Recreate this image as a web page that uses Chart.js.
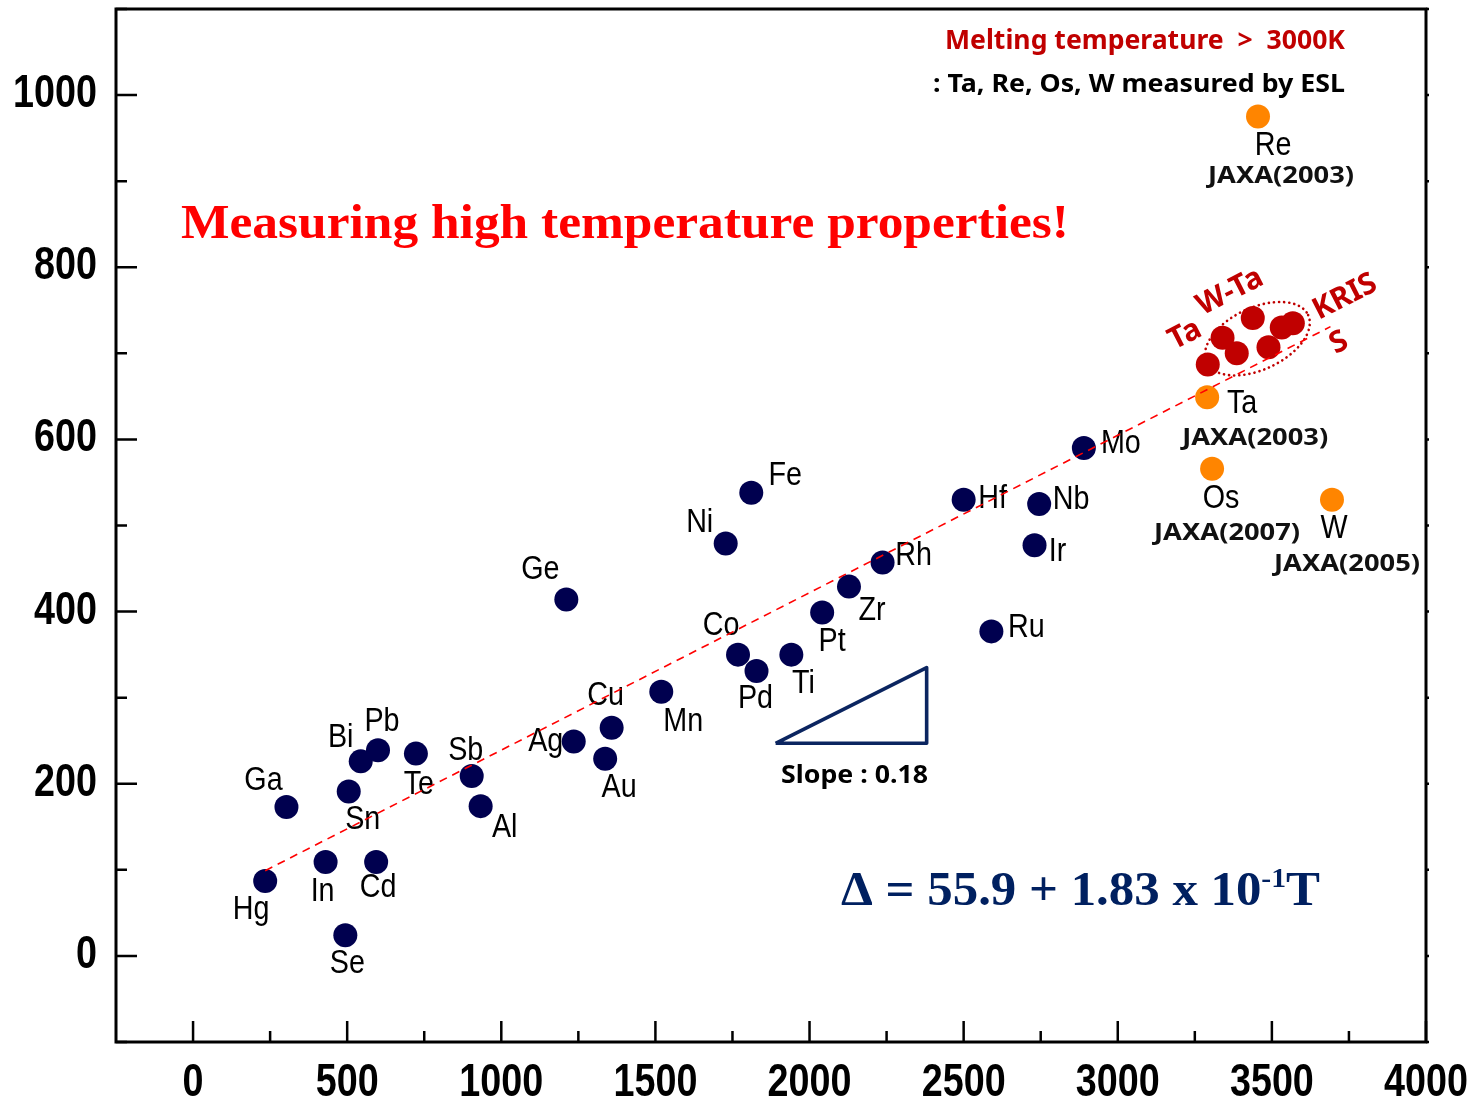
<!DOCTYPE html>
<html><head><meta charset="utf-8">
<script src="https://cdn.jsdelivr.net/npm/chart.js@4.4.1/dist/chart.umd.min.js"></script>
<style>html,body{margin:0;padding:0;background:#fff;}canvas{display:block;}</style>
</head><body>
<canvas id="c" width="1478" height="1100"></canvas>
<script>
// ---------- data ----------
const elementNames = ['Hg','Ga','In','Se','Sn','Bi','Cd','Pb','Te','Sb','Al','Ge','Ag','Au','Cu','Mn','Ni','Co','Fe','Pd','Ti','Pt','Zr','Rh','Hf','Ru','Ir','Nb','Mo'];
const elementT     = [234, 303, 430, 494, 505, 544, 594, 600, 723, 904, 933, 1211, 1235, 1337, 1358, 1519, 1728, 1768, 1811, 1828, 1941, 2041, 2128, 2237, 2500, 2590, 2730, 2745, 2890];
const elementDelta = [87, 173, 109, 24, 191, 226, 109, 239, 235, 209, 174, 414, 249, 229, 265, 307, 479, 350, 538, 331, 350, 399, 429, 457, 530, 377, 477, 525, 590];

const jaxaNames  = ['Ta','Os','Re','W'];
const jaxaSource = ['JAXA(2003)','JAXA(2007)','JAXA(2003)','JAXA(2005)'];
const jaxaT      = [3290, 3306, 3455, 3695];
const jaxaDelta  = [649, 566, 975, 530];

const krissT     = [3292, 3340, 3386, 3438, 3489, 3532, 3568];
const krissDelta = [687, 718, 700, 741, 707, 730, 735];

const fitT     = [234, 3690];
const fitDelta = [99, 731];

const slopeT     = [1890, 2380, 2380, 1890];
const slopeDelta = [247, 247, 335, 247];

const ellipseT = 3453, ellipseDelta = 717;

const xTicks = [0, 500, 1000, 1500, 2000, 2500, 3000, 3500, 4000];
const xMinorTicks = [250, 750, 1250, 1750, 2250, 2750, 3250, 3750];
const yTicks = [0, 200, 400, 600, 800, 1000];
const yMinorTicks = [-100, 100, 300, 500, 700, 900, 1100];

// ---------- label placement (pixel offsets from the point) ----------
const elementLabelOffsets = {
  Hg:[-14,29], Ga:[-23,-26], In:[-3,30], Se:[2,29], Sn:[14,28], Bi:[-20,-23], Cd:[2,26], Pb:[4,-28],
  Te:[3,31], Sb:[-6,-25], Al:[24,22], Ge:[-26,-30], Ag:[-28,0], Au:[14,29], Cu:[-6,-32], Mn:[22,30],
  Ni:[-26,-21], Co:[-17,-29], Fe:[34,-17], Pd:[-1,28], Ti:[12,29], Pt:[10,29], Zr:[23,24], Rh:[31,-7],
  Hf:[29,-1], Ru:[35,-3], Ir:[23,7], Nb:[32,-4], Mo:[37,-4]
};
const jaxaNameOffsets = [[35,7],[9,30],[15,29],[2,29]];
const jaxaSourceOffsets = [[48,41],[15,64],[23,60],[15,64]];

const pts = (xs, ys) => xs.map((x, i) => ({x, y: ys[i]}));

const SANS = "'Liberation Sans', Arial, sans-serif";
const KR = "'Noto Sans', 'Open Sans', sans-serif";
const SERIF = "'Liberation Serif', 'DejaVu Serif', serif";

function fitText(ctx, text, x, y, targetW, align) {
  const w = ctx.measureText(text).width;
  const sx = targetW ? targetW / w : 1;
  ctx.save();
  ctx.translate(x, y);
  ctx.scale(sx, 1);
  ctx.textAlign = align || 'left';
  ctx.fillText(text, 0, 0);
  ctx.restore();
}
function squeezeText(ctx, text, x, y, sx, align) {
  ctx.save();
  ctx.translate(x, y);
  ctx.scale(sx, 1);
  ctx.textAlign = align || 'center';
  ctx.fillText(text, 0, 0);
  ctx.restore();
}

const underPlugin = {
  id: 'under',
  beforeDatasetsDraw(chart) {
    const {ctx, scales: {x, y}} = chart;
    ctx.save();
    // dotted ellipse around KRISS data
    ctx.strokeStyle = '#c00000';
    ctx.lineWidth = 2.6;
    ctx.setLineDash([0.1, 5]);
    ctx.lineCap = 'round';
    ctx.beginPath();
    ctx.ellipse(x.getPixelForValue(ellipseT), y.getPixelForValue(ellipseDelta), 56, 31, -25 * Math.PI / 180, 0, 2 * Math.PI);
    ctx.stroke();
    ctx.setLineDash([]);

    // element labels
    ctx.fillStyle = '#000';
    ctx.font = '33px ' + SANS;
    ctx.textBaseline = 'middle';
    elementNames.forEach((n, i) => {
      const o = elementLabelOffsets[n] || [0, 28];
      squeezeText(ctx, n, x.getPixelForValue(elementT[i]) + o[0], y.getPixelForValue(elementDelta[i]) + o[1], 0.87);
    });
    jaxaNames.forEach((n, i) => {
      const px = x.getPixelForValue(jaxaT[i]), py = y.getPixelForValue(jaxaDelta[i]);
      ctx.font = '33px ' + SANS;
      ctx.fillStyle = '#000';
      squeezeText(ctx, n, px + jaxaNameOffsets[i][0], py + jaxaNameOffsets[i][1], 0.87);
      ctx.font = 'bold 24px ' + KR;
      ctx.fillStyle = '#111';
      fitText(ctx, jaxaSource[i], px + jaxaSourceOffsets[i][0], py + jaxaSourceOffsets[i][1], 146, 'center');
    });
    ctx.restore();
  },
  afterDatasetsDraw(chart) {
    const {ctx, chartArea: {left, right, top, bottom}, scales: {x, y}} = chart;
    ctx.save();
    ctx.strokeStyle = '#000';
    // inward ticks
    ctx.lineWidth = 2.5;
    ctx.beginPath();
    x.ticks.forEach(t => { const p = x.getPixelForValue(t.value); ctx.moveTo(p, bottom); ctx.lineTo(p, bottom - 21); });
    xMinorTicks.forEach(v => { const p = x.getPixelForValue(v); ctx.moveTo(p, bottom); ctx.lineTo(p, bottom - 11); });
    y.ticks.forEach(t => { const p = y.getPixelForValue(t.value); ctx.moveTo(left, p); ctx.lineTo(left + 21, p); });
    yMinorTicks.forEach(v => { const p = y.getPixelForValue(v); ctx.moveTo(left, p); ctx.lineTo(left + 11, p); });
    // tiny outward ticks on right axis
    yTicks.concat(yMinorTicks).forEach(v => { const p = y.getPixelForValue(v); ctx.moveTo(right, p); ctx.lineTo(right + 3, p); });
    ctx.stroke();
    // frame
    ctx.lineWidth = 3;
    ctx.strokeRect(left, top, right - left, bottom - top);

    // tick labels (values from the library's ticks)
    ctx.fillStyle = '#000';
    ctx.font = 'bold 46px ' + SANS;
    ctx.textBaseline = 'alphabetic';
    y.ticks.forEach(t => squeezeText(ctx, String(t.value), left - 19, y.getPixelForValue(t.value) + 12, 0.82, 'right'));
    x.ticks.forEach(t => squeezeText(ctx, String(t.value), x.getPixelForValue(t.value), bottom + 54, 0.82, 'center'));

    // annotations
    ctx.fillStyle = '#ff0000';
    ctx.font = 'bold 48px ' + SERIF;
    fitText(ctx, 'Measuring high temperature properties!', 181, 238, 888, 'left');

    ctx.fillStyle = '#c00000';
    ctx.font = 'bold 26px ' + KR;
    fitText(ctx, 'Melting temperature  >  3000K', 1345, 49, 400, 'right');
    ctx.fillStyle = '#000';
    ctx.font = 'bold 25px ' + KR;
    fitText(ctx, ': Ta, Re, Os, W measured by ESL', 1345, 92, 412, 'right');

    ctx.font = 'bold 25px ' + KR;
    fitText(ctx, 'Slope : 0.18', 781, 783, 147, 'left');

    // equation
    ctx.fillStyle = '#002060';
    const mainFont = 'bold 48px ' + SERIF, supFont = 'bold 28px ' + SERIF;
    const p1 = 'Δ = 55.9 + 1.83 x 10', p2 = '-1', p3 = 'T';
    ctx.font = mainFont; const w1 = ctx.measureText(p1).width, w3 = ctx.measureText(p3).width;
    ctx.font = supFont; const w2 = ctx.measureText(p2).width;
    const sx = 479 / (w1 + w2 + w3);
    ctx.save();
    ctx.translate(841, 905);
    ctx.scale(sx, 1);
    ctx.textAlign = 'left';
    ctx.font = mainFont; ctx.fillText(p1, 0, 0);
    ctx.font = supFont; ctx.fillText(p2, w1, -18);
    ctx.font = mainFont; ctx.fillText(p3, w1 + w2, 0);
    ctx.restore();

    // rotated KRISS labels
    ctx.fillStyle = '#c00000';
    ctx.font = 'bold 30px ' + KR;
    ctx.textAlign = 'center';
    ctx.textBaseline = 'middle';
    [['Ta', 1185, 335], ['W-Ta', 1230, 292], ['KRIS', 1345, 297], ['S', 1339, 343]].forEach(([t, tx, ty]) => {
      ctx.save(); ctx.translate(tx, ty); ctx.rotate(-27 * Math.PI / 180); ctx.fillText(t, 0, 0); ctx.restore();
    });
    ctx.restore();
  }
};

new Chart(document.getElementById('c'), {
  type: 'scatter',
  data: {
    datasets: [
      {label: 'Fit', type: 'line', data: pts(fitT, fitDelta), borderColor: '#ff0000', borderWidth: 1.6, borderDash: [8, 6], pointRadius: 0, fill: false, order: 0},
      {label: 'Slope', type: 'line', data: pts(slopeT, slopeDelta), borderColor: '#0b2560', borderWidth: 3.6, borderJoinStyle: 'round', pointRadius: 0, fill: false, order: 1},
      {label: 'Elements', data: pts(elementT, elementDelta), backgroundColor: '#00004f', borderWidth: 0, pointRadius: 12, order: 2},
      {label: 'JAXA', data: pts(jaxaT, jaxaDelta), backgroundColor: '#ff8500', borderWidth: 0, pointRadius: 12, order: 2},
      {label: 'KRISS', data: pts(krissT, krissDelta), backgroundColor: '#c00000', borderWidth: 0, pointRadius: 12, order: 2}
    ]
  },
  options: {
    responsive: false,
    animation: false,
    devicePixelRatio: 1,
    layout: {autoPadding: false, padding: {top: 9, right: 52, left: 0, bottom: 0}},
    plugins: {legend: {display: false}, tooltip: {enabled: false}},
    scales: {
      x: {
        type: 'linear', min: -250, max: 4000,
        afterBuildTicks: s => { s.ticks = xTicks.map(v => ({value: v})); },
        afterFit: s => { s.height = 58; },
        grid: {display: false, drawTicks: false},
        border: {display: false},
        ticks: {display: false}
      },
      y: {
        type: 'linear', min: -100, max: 1100,
        afterBuildTicks: s => { s.ticks = yTicks.map(v => ({value: v})); },
        afterFit: s => { s.width = 116; },
        grid: {display: false, drawTicks: false},
        border: {display: false},
        ticks: {display: false}
      }
    }
  },
  plugins: [underPlugin]
});
</script>
</body></html>
